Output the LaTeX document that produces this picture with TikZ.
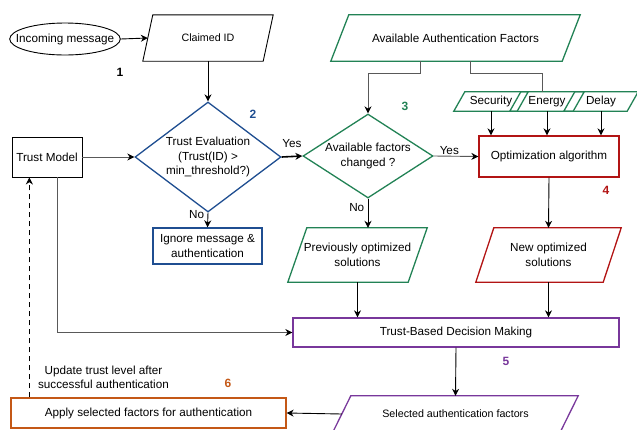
\documentclass[tikz,border=0pt]{standalone}
\usepackage{fontspec}
\setmainfont{Liberation Sans}
\usetikzlibrary{shapes.geometric, arrows.meta}

\definecolor{trustblue}{RGB}{31,78,145}
\definecolor{factgreen}{RGB}{34,130,85}
\definecolor{optred}{RGB}{178,20,20}
\definecolor{decpurple}{RGB}{120,55,155}
\definecolor{applyorange}{RGB}{196,88,22}

\tikzset{
    every node/.style={font=\fontsize{11.7}{14.5}\selectfont, align=center},
    box/.style={draw, rectangle, inner sep=0pt, line width=1.3pt},
    io/.style={rectangle, inner sep=0pt}, % outline drawn later as parallelogram
    decision/.style={draw, diamond, inner sep=0pt, line width=1.3pt},
    stepno/.style={font=\fontsize{12}{14}\selectfont\bfseries},
    flow/.style={draw=black, line width=0.9pt, -{Stealth[length=7pt,width=7pt,black]}},
    grayflow/.style={flow, draw=black!65},
    smalltext/.style={font=\fontsize{10.7}{13}\selectfont},
}

\begin{document}
\begin{tikzpicture}[x=1pt, y=-1pt]
    \path[use as bounding box, clip] (0,0) rectangle (637,429);

    % Incoming message and trust check
    \node[ellipse, draw, line width=0.9pt, minimum width=110pt, minimum height=32pt, inner xsep=-10pt, inner ysep=0pt] (msg) at (65,39) {Incoming message};
    \node[io, smalltext, minimum width=130pt, minimum height=46pt] (claimed) at (208,38) {Claimed ID};
    \node[decision, draw=trustblue, aspect=1.33, minimum width=146pt, minimum height=110pt] (trust) at (208,157) {Trust Evaluation\\(Trust(ID) >\\min\_threshold?)};
    \node[box, line width=0.9pt, minimum width=70pt, minimum height=40pt] (tmodel) at (47,157) {Trust Model};
    \node[box, draw=trustblue, minimum width=109pt, minimum height=36pt] (ignore) at (207.5,246) {Ignore message \&\\authentication};

    % Authentication factors
    \node[io, minimum width=249pt, minimum height=46pt] (factors) at (455.5,38) {Available Authentication Factors};
    \node[decision, draw=factgreen, aspect=1.55, minimum width=130pt, minimum height=84pt] (changed) at (368,156) {Available factors\\changed ?};
    \node[io, minimum width=74pt, minimum height=19pt] (sec) at (491,101.5) {Security};
    \node[io, minimum width=74pt, minimum height=19pt] (ener) at (547,101.5) {Energy};
    \node[io, minimum width=74pt, minimum height=19pt] (delay) at (601,101.5) {Delay};
    \node[io, minimum width=139pt, minimum height=54pt] (prev) at (357.5,255) {Previously optimized\\solutions};

    % Optimization
    \node[box, draw=optred, minimum width=140pt, minimum height=41pt] (opt) at (549,156.5) {Optimization algorithm};
    \node[io, minimum width=145pt, minimum height=54pt] (newsol) at (548.5,255) {New optimized\\solutions};

    % Decision and application
    \node[box, draw=decpurple, minimum width=326pt, minimum height=29pt] (tbdm) at (456,332.5) {Trust-Based Decision Making};
    \node[io, smalltext, minimum width=245pt, minimum height=36pt] (selected) at (455.5,414) {Selected authentication factors};
    \node[box, draw=applyorange, minimum width=275pt, minimum height=30pt] (apply) at (148.5,413) {Apply selected factors for authentication};
    \node (updnote) at (103.5,377.5) {Update trust level after\\successful authentication};

    % Parallelogram outlines
    \foreach \n/\s/\c/\w in {claimed/10/black/0.9pt, factors/18/factgreen/1.3pt, sec/11/factgreen/1.3pt, ener/11/factgreen/1.3pt, delay/11/factgreen/1.3pt, prev/19/factgreen/1.3pt, newsol/18/optred/1.3pt, selected/18/decpurple/1.3pt}
        \draw[\c, line width=\w] ([xshift=\s pt]\n.north west) -- (\n.north east) -- ([xshift=-\s pt]\n.south east) -- (\n.south west) -- cycle;

    % Step numbers
    \node[stepno] (n1) at (120,72) {1};
    \node[stepno, text=trustblue] (n2) at (253,114) {2};
    \node[stepno, text=factgreen] (n3) at (405,106) {3};
    \node[stepno, text=optred] (n4) at (606,190) {4};
    \node[stepno, text=decpurple] (n5) at (506,361) {5};
    \node[stepno, text=applyorange] (n6) at (228,383) {6};

    % Connectors
    \draw[flow] (msg.east) -- ([xshift=5pt]claimed.west);
    \draw[flow] (claimed.south) -- (trust.north);
    \draw[grayflow] (tmodel.east) -- (trust.west);
    \draw[flow, line width=1.6pt] (trust.east) -- node[above=5pt] (yes1) {Yes} (changed.west);
    \draw[flow] (trust.south) -- node[pos=0.1, left] (no1) {No} (ignore.north);
    \draw[grayflow] ([xshift=-35pt]factors.south) -- ++(0,12) -| (changed.north);
    \draw[grayflow, -] ([xshift=15pt]factors.south) -- ++(0,12) -| ([xshift=-5pt]ener.north);
    \foreach \f in {sec, ener, delay}
        \draw[flow] (\f.south) -- (\f.south |- opt.north);
    \draw[grayflow] (changed.east) -- node[above, inner sep=1pt, pos=0.35] (yes2) {Yes} (opt.west);
    \draw[flow] (changed.south) -- node[pos=0.3, left] (no2) {No} (changed.south |- prev.north);
    \draw[flow] (opt.south) -- (newsol.north);
    \draw[flow] (prev.south) -- (prev.south |- tbdm.north);
    \draw[flow] (newsol.south) -- (newsol.south |- tbdm.north);
    \draw[grayflow] ([xshift=10pt]tmodel.south) |- (tbdm.west);
    \draw[flow] (tbdm.south) -- (selected.north);
    \draw[flow] ([xshift=9pt]selected.west) -- (apply.east);
    \coordinate (fb) at ([xshift=19pt]apply.north west);
    \draw[flow, dash pattern=on 5pt off 4pt] (fb) -- (fb |- tmodel.south);

\end{tikzpicture}
\end{document}
